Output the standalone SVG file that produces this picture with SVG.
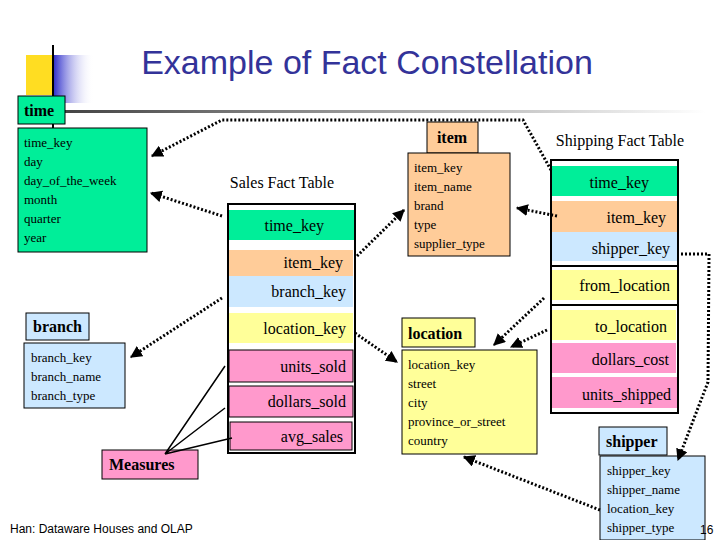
<svg xmlns="http://www.w3.org/2000/svg" width="720" height="540" viewBox="0 0 720 540">
<defs>
<linearGradient id="hl" x1="0" x2="1"><stop offset="0" stop-color="#444"/><stop offset="1" stop-color="#fff"/></linearGradient>
<linearGradient id="bl" x1="0" x2="1"><stop offset="0" stop-color="#3333cc"/><stop offset="1" stop-color="#fff" stop-opacity="0"/></linearGradient>
<marker id="ah" viewBox="0 0 10 10" refX="9" refY="5" markerWidth="4" markerHeight="4" orient="auto"><path d="M0,0L10,5L0,10z" fill="#000"/></marker>
</defs>
<style>
.t{font-family:"Liberation Serif",serif;font-size:13px;fill:#000}
.r{font-family:"Liberation Serif",serif;font-size:16px;fill:#000;text-anchor:end}
.h{font-family:"Liberation Serif",serif;font-size:16px;font-weight:bold;fill:#000}
.g{fill:#00ee99}.o{fill:#ffcc99}.b{fill:#cce8ff}.y{fill:#ffff99}.p{fill:#ff99cc}
.bx{stroke:#000;stroke-width:1}
.c{fill:none;stroke:#000;stroke-width:3;stroke-dasharray:2 2;marker-end:url(#ah)}
</style>
<rect x="26" y="55" width="28" height="40" fill="#ffdd22"/>
<rect x="54" y="55" width="40" height="48" fill="url(#bl)"/>
<line x1="53" y1="45" x2="53" y2="130" stroke="#000" stroke-width="2"/>
<rect x="65" y="110" width="640" height="3" fill="url(#hl)"/>
<text x="367" y="74" font-family="Liberation Sans,sans-serif" font-size="34" fill="#333399" text-anchor="middle">Example of Fact Constellation</text>

<g id="time"><rect class="g bx" x="18" y="96" width="47" height="28"/><text class="h" x="24" y="116">time</text>
<rect class="g bx" x="18" y="128" width="129" height="124"/>
<text class="t" x="24" y="147">time_key</text><text class="t" x="24" y="166">day</text><text class="t" x="24" y="185">day_of_the_week</text><text class="t" x="24" y="204">month</text><text class="t" x="24" y="223">quarter</text><text class="t" x="24" y="242">year</text></g>

<g id="sales"><text x="282" y="188" font-family="Liberation Serif,serif" font-size="16" text-anchor="middle">Sales Fact Table</text>
<rect x="228" y="204" width="127" height="249" fill="#fff" stroke="#000" stroke-width="2"/>
<rect class="g" x="229" y="210" width="125" height="30"/><text class="r" x="324" y="231">time_key</text>
<rect class="o" x="229" y="250" width="124" height="26"/><text class="r" x="343" y="268">item_key</text>
<rect class="b" x="229" y="276" width="124" height="31"/><text class="r" x="346" y="297">branch_key</text>
<rect class="y" x="229" y="313" width="124" height="30"/><text class="r" x="346" y="334">location_key</text>
<rect class="p bx" x="229" y="350" width="124" height="32"/><text class="r" x="346" y="372">units_sold</text>
<rect class="p bx" x="229" y="386" width="124" height="31"/><text class="r" x="346" y="407">dollars_sold</text>
<rect class="p bx" x="230" y="422" width="122" height="28"/><text class="r" x="343" y="442">avg_sales</text></g>

<g id="item"><rect class="o bx" x="427" y="122" width="51" height="31"/><text class="h" x="452" y="143" text-anchor="middle">item</text>
<rect class="o bx" x="408" y="153" width="102" height="103"/>
<text class="t" x="414" y="172">item_key</text><text class="t" x="414" y="191">item_name</text><text class="t" x="414" y="210">brand</text><text class="t" x="414" y="229">type</text><text class="t" x="414" y="248">supplier_type</text></g>

<g id="shipping"><text x="620" y="146" font-family="Liberation Serif,serif" font-size="16" text-anchor="middle">Shipping Fact Table</text>
<rect x="551" y="160" width="127" height="253" fill="#fff" stroke="#000" stroke-width="2"/>
<rect class="g" x="552" y="166" width="125" height="30"/><text class="r" x="649" y="188">time_key</text>
<rect class="o" x="552" y="201" width="125" height="31"/><text class="r" x="666" y="223">item_key</text>
<rect class="b" x="552" y="232" width="125" height="29"/><text class="r" x="670" y="254">shipper_key</text>
<line x1="551" y1="266" x2="678" y2="266" stroke="#000" stroke-width="2"/>
<rect class="y" x="552" y="270" width="125" height="30"/><text class="r" x="670" y="291">from_location</text>
<line x1="551" y1="305" x2="678" y2="305" stroke="#000" stroke-width="2"/>
<rect class="y" x="552" y="310" width="124" height="30"/><text class="r" x="667" y="332">to_location</text>
<rect class="p" x="552" y="343" width="124" height="30"/><text class="r" x="669" y="365">dollars_cost</text>
<rect class="p" x="552" y="377" width="125" height="31"/><text class="r" x="671" y="400">units_shipped</text></g>

<g id="location"><rect class="y bx" x="402" y="318" width="73" height="29"/><text class="h" x="408" y="339">location</text>
<rect class="y bx" x="402" y="350" width="135" height="104"/>
<text class="t" x="408" y="369">location_key</text><text class="t" x="408" y="388">street</text><text class="t" x="408" y="407">city</text><text class="t" x="408" y="426">province_or_street</text><text class="t" x="408" y="445">country</text></g>

<g id="branch"><rect class="b bx" x="26" y="313" width="63" height="27"/><text class="h" x="33" y="332">branch</text>
<rect class="b bx" x="24" y="343" width="101" height="65"/>
<text class="t" x="31" y="362">branch_key</text><text class="t" x="31" y="381">branch_name</text><text class="t" x="31" y="400">branch_type</text></g>

<g id="measures"><rect class="p bx" x="102" y="450" width="96" height="29"/><text class="h" x="109" y="470">Measures</text></g>

<g id="shipper"><rect class="b bx" x="599" y="427" width="68" height="28"/><text class="h" x="606" y="447">shipper</text>
<rect class="b bx" x="600" y="456" width="105" height="84"/>
<text class="t" x="607" y="475">shipper_key</text><text class="t" x="607" y="494">shipper_name</text><text class="t" x="607" y="513">location_key</text><text class="t" x="607" y="532">shipper_type</text></g>

<g id="connectors">
<path class="c" d="M222,216L151,193"/>
<path class="c" d="M551,170L523,120L222,120L152,156"/>
<path class="c" d="M357,256L404,210"/>
<path class="c" d="M557,216L517,208"/>
<path class="c" d="M222,298L131,357"/>
<path class="c" d="M355,333L397,362"/>
<path class="c" d="M544,298L494,345"/>
<path class="c" d="M547,330L511,347"/>
<path class="c" d="M681,254L709,254L708,382L678,460"/>
<path class="c" d="M600,510L464,457"/>
<path d="M165,454L225,366M165,454L225,408M165,454L232,438" fill="none" stroke="#000" stroke-width="1.5"/>
</g>
<text x="10" y="533" font-family="Liberation Sans,sans-serif" font-size="12">Han: Dataware Houses and OLAP</text>
<text x="700" y="534" font-family="Liberation Sans,sans-serif" font-size="12">16</text>
</svg>
